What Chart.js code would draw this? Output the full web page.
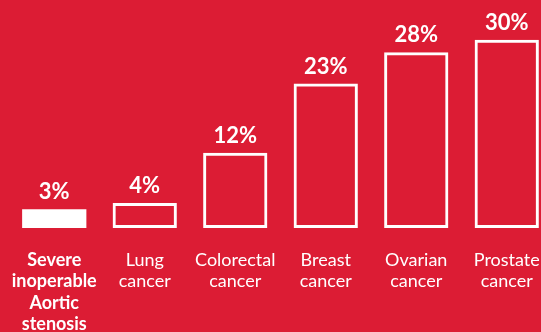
<!DOCTYPE html>
<html>
<head>
<meta charset="utf-8">
<script src="https://cdn.jsdelivr.net/npm/chart.js@4.4.1/dist/chart.umd.min.js"></script>
<style>
  html, body { margin: 0; padding: 0; background: #dc1c34; overflow: hidden; width: 541px; height: 332px; }
  #wrap { position: absolute; left: 0; top: 0; }
</style>
</head>
<body>
<div id="wrap"><canvas id="chart" width="552" height="335"></canvas></div>
<script>
// categories (multi-line labels) and values
const categories = [
  ['Severe', 'inoperable', 'Aortic', 'stenosis'],
  ['Lung', 'cancer'],
  ['Colorectal', 'cancer'],
  ['Breast', 'cancer'],
  ['Ovarian', 'cancer'],
  ['Prostate', 'cancer']
];
const values = [3, 4, 12, 23, 28, 30];
const valueLabels = ['3%', '4%', '12%', '23%', '28%', '30%'];

const FONT = 'Lato, "Open Sans", sans-serif';

// draws the % label above each bar
const valueLabelPlugin = {
  id: 'valueLabels',
  afterDatasetsDraw(chart) {
    const ctx = chart.ctx;
    const meta = chart.getDatasetMeta(0);
    ctx.save();
    ctx.fillStyle = '#ffffff';
    ctx.font = 'bold 22px ' + FONT;
    ctx.textAlign = 'center';
    ctx.textBaseline = 'alphabetic';
    meta.data.forEach((bar, i) => {
      ctx.fillText(valueLabels[i], bar.x, bar.y - 10);
    });
    ctx.restore();
  }
};

new Chart(document.getElementById('chart'), {
  type: 'bar',
  data: {
    labels: categories,
    datasets: [{
      data: values,
      // first bar is solid white, the rest are white outlines
      backgroundColor: values.map((v, i) => i === 0 ? '#ffffff' : 'rgba(0,0,0,0)'),
      borderColor: '#ffffff',
      borderWidth: values.map((v, i) => i === 0 ? 0 : 3),
      borderSkipped: false,
      categoryPercentage: 1,
      barPercentage: 0.71
    }]
  },
  options: {
    responsive: false,
    devicePixelRatio: 1,
    animation: false,
    layout: { padding: { left: 9, right: 0, top: 2, bottom: 0 } },
    plugins: {
      legend: { display: false },
      tooltip: { enabled: false }
    },
    scales: {
      x: {
        grid: { display: false, drawTicks: false },
        border: { display: false },
        ticks: {
          color: '#ffffff',
          padding: 21,
          maxRotation: 0,
          autoSkip: false,
          font: (c) => ({
            family: FONT,
            size: 18,
            weight: c.index === 0 ? 'bold' : 'normal',
            lineHeight: 1.2
          })
        },
        // keep the axis box fixed so the plot area lines up with the picture
        afterFit: (scale) => {
          scale.height = 107;
          scale.paddingLeft = 0;
          scale.paddingRight = 0;
        }
      },
      y: {
        display: false,
        min: 0,
        max: 36
      }
    }
  },
  plugins: [valueLabelPlugin]
});
</script>
</body>
</html>
